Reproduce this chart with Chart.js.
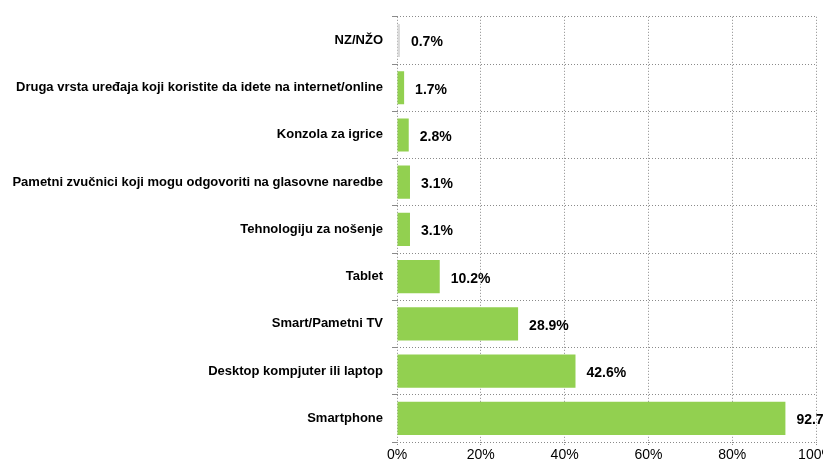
<!DOCTYPE html>
<html>
<head>
<meta charset="utf-8">
<script src="https://cdn.jsdelivr.net/npm/chart.js@4/dist/chart.umd.min.js"></script>
<style>
  html, body { margin: 0; padding: 0; background: #fff; overflow: hidden; }
  #wrap { width: 860px; height: 466px; }
</style>
</head>
<body>
<div id="wrap"><canvas id="mycanvas" width="860" height="466"></canvas></div>
<script>
var categories = [
  "NZ/NŽO",
  "Druga vrsta uređaja koji koristite da idete na internet/online",
  "Konzola za igrice",
  "Pametni zvučnici koji mogu odgovoriti na glasovne naredbe",
  "Tehnologiju za nošenje",
  "Tablet",
  "Smart/Pametni TV",
  "Desktop kompjuter ili laptop",
  "Smartphone"
];
var values = [0.7, 1.7, 2.8, 3.1, 3.1, 10.2, 28.9, 42.6, 92.7];
var barColors = ["#D9D9D9", "#92D050", "#92D050", "#92D050", "#92D050", "#92D050", "#92D050", "#92D050", "#92D050"];
var xTicks = [0, 20, 40, 60, 80, 100];

Chart.defaults.font.family = "'Liberation Sans', Arial, sans-serif";
Chart.defaults.color = "#000";

// value labels next to each bar
var valueLabels = {
  id: "valueLabels",
  afterDatasetsDraw: function(chart) {
    var ctx = chart.ctx;
    var meta = chart.getDatasetMeta(0);
    ctx.save();
    ctx.font = "bold 14px 'Liberation Sans', Arial, sans-serif";
    ctx.fillStyle = "#000";
    ctx.textAlign = "left";
    ctx.textBaseline = "middle";
    meta.data.forEach(function(bar, i) {
      ctx.fillText(values[i].toFixed(1) + "%", bar.x + 11, bar.y + 2);
    });
    ctx.restore();
  }
};

var ctx = document.getElementById("mycanvas");
var chart = new Chart(ctx, {
  type: "bar",
  data: {
    labels: categories,
    datasets: [{
      data: values,
      backgroundColor: barColors,
      borderWidth: 0,
      barPercentage: 0.7,
      categoryPercentage: 1
    }]
  },
  options: {
    indexAxis: "y",
    responsive: false,
    animation: false,
    layout: { padding: { top: 15, right: 44, left: 0, bottom: 0 } },
    plugins: {
      legend: { display: false },
      tooltip: { enabled: false }
    },
    scales: {
      x: {
        min: 0,
        max: 100,
        afterBuildTicks: function(scale) {
          scale.ticks = xTicks.map(function(v) { return { value: v }; });
        },
        afterFit: function(scale) { scale.height = 24; },
        ticks: {
          font: { size: 14 },
          padding: 1,
          maxRotation: 0,
          callback: function(v) { return v + "%"; }
        },
        grid: {
          color: "#8a8a8a",
          tickLength: 4,
          tickBorderDash: [1, 1]
        },
        border: { display: false, dash: [1, 2] }
      },
      y: {
        afterFit: function(scale) { scale.width = 397; },
        ticks: {
          font: { size: 13, weight: "bold" },
          padding: 9
        },
        grid: {
          offset: true,
          color: "#8a8a8a",
          tickLength: 5,
          tickColor: "#8a8a8a",
          tickBorderDash: []
        },
        border: { display: false, dash: [1, 2] }
      }
    }
  },
  plugins: [valueLabels]
});
</script>
</body>
</html>
